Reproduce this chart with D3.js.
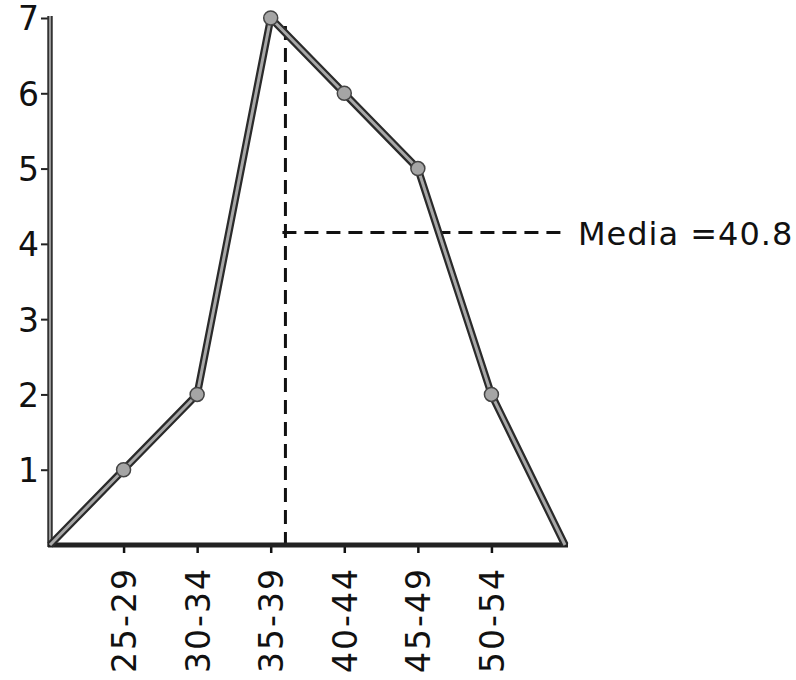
<!DOCTYPE html>
<html>
<head>
<meta charset="utf-8">
<script src="https://cdn.jsdelivr.net/npm/d3@7"></script>
<style>
  html, body { margin: 0; padding: 0; background: #fff; }
  svg { display: block; }
  text { font-family: "DejaVu Sans", sans-serif; fill: #111; }
</style>
</head>
<body>
<svg id="chart" width="796" height="680"></svg>
<script>
// Data
const categories = ["25-29", "30-34", "35-39", "40-44", "45-49", "50-54"];
const frequencies = [1, 2, 7, 6, 5, 2];
const yTicks = [1, 2, 3, 4, 5, 6, 7];
const medianLabel = "Media =40.8";
const medianLinePos = 2.2;    // position along category axis (index units)
const medianLineLevel = 4.15; // height of horizontal dashed line

const svg = d3.select("#chart");
const x = d3.scaleLinear().domain([-1, categories.length]).range([50, 565]);
const y = d3.scaleLinear().domain([0, 7]).range([545, 18]);

// polygon points: closed to zero at both ends
const pts = [{i: -1, v: 0}]
  .concat(frequencies.map((v, i) => ({i, v})))
  .concat([{i: categories.length, v: 0}]);

// dashed median lines (drawn under polygon)
svg.append("line")
  .attr("x1", x(medianLinePos)).attr("x2", x(medianLinePos))
  .attr("y1", y(7) + 8).attr("y2", y(0))
  .attr("stroke", "#111").attr("stroke-width", 3)
  .attr("stroke-dasharray", "14,8");
svg.append("line")
  .attr("x1", x(medianLinePos) - 3).attr("x2", x(categories.length))
  .attr("y1", y(medianLineLevel)).attr("y2", y(medianLineLevel))
  .attr("stroke", "#111").attr("stroke-width", 3)
  .attr("stroke-dasharray", "14,8");

// y axis
const yAxis = d3.axisLeft(y).tickValues(yTicks).tickSize(9).tickPadding(2).tickFormat(d3.format("d"));
const gy = svg.append("g").attr("transform", `translate(${x(-1)},0)`).call(yAxis);
gy.select(".domain").remove();
gy.selectAll(".tick line").attr("stroke", "#222").attr("stroke-width", 2);
gy.selectAll(".tick text").attr("font-size", 33).attr("dy", "0.36em");
svg.append("line").attr("x1", x(-1)).attr("x2", x(-1)).attr("y1", y(7) - 2).attr("y2", y(0) + 2)
  .attr("stroke", "#333").attr("stroke-width", 5.5);
svg.append("line").attr("x1", x(-1)).attr("x2", x(-1)).attr("y1", y(7) - 2).attr("y2", y(0) + 2)
  .attr("stroke", "#999").attr("stroke-width", 2);

// x axis
const xAxis = d3.axisBottom(x).tickValues(d3.range(categories.length)).tickSize(8)
  .tickFormat(i => categories[i]);
const gx = svg.append("g").attr("transform", `translate(0,${y(0)})`).call(xAxis);
gx.select(".domain").remove();
gx.selectAll(".tick line").attr("stroke", "#111").attr("stroke-width", 2.5);
gx.selectAll(".tick text")
  .attr("font-size", 33)
  .attr("letter-spacing", 2)
  .attr("text-anchor", "end")
  .attr("transform", "rotate(-90)")
  .attr("x", -22).attr("y", 0).attr("dy", "0.36em");
svg.append("line").attr("x1", x(-1) - 2).attr("x2", x(categories.length) + 3).attr("y1", y(0)).attr("y2", y(0))
  .attr("stroke", "#222").attr("stroke-width", 5);

// polygon
const line = d3.line().x(d => x(d.i)).y(d => y(d.v));
svg.append("path").datum(pts).attr("d", line).attr("fill", "none")
  .attr("stroke", "#2a2a2a").attr("stroke-width", 7.5).attr("stroke-linejoin", "round");
svg.append("path").datum(pts).attr("d", line).attr("fill", "none")
  .attr("stroke", "#a8a8a8").attr("stroke-width", 3).attr("stroke-linejoin", "round");

svg.selectAll("circle.pt").data(pts.filter(d => d.v > 0)).join("circle")
  .attr("class", "pt")
  .attr("cx", d => x(d.i)).attr("cy", d => y(d.v)).attr("r", 7)
  .attr("fill", "#a5a5a5").attr("stroke", "#444").attr("stroke-width", 1.5);

// median label
svg.append("text").attr("x", 578).attr("y", y(medianLineLevel) + 12)
  .attr("font-size", 32).attr("letter-spacing", 1).text(medianLabel);
</script>
</body>
</html>
